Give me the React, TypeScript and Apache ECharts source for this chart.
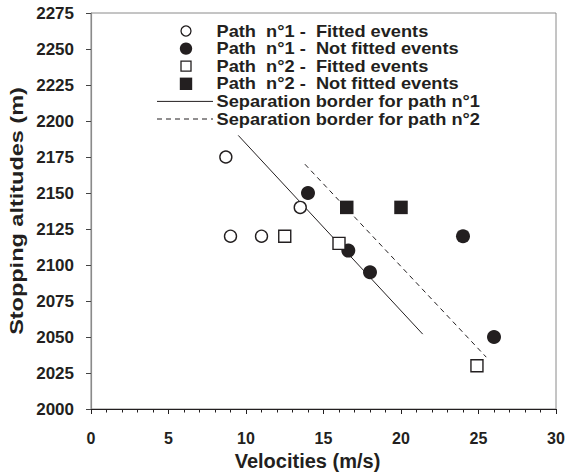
import React, { useEffect, useRef } from "react";
import * as echarts from "echarts";

// ---- data ----
const path1Fitted: number[][] = [[8.7, 2175], [9, 2120], [11, 2120], [13.5, 2140]];
const path1NotFitted: number[][] = [[14, 2150], [16.6, 2110], [18, 2095], [24, 2120], [26, 2050]];
const path2Fitted: number[][] = [[12.5, 2120], [16, 2115], [24.9, 2030]];
const path2NotFitted: number[][] = [[16.5, 2140], [20, 2140]];
const border1: number[][] = [[9.5, 2190], [21.4, 2052]];
const border2: number[][] = [[13.8, 2170], [25.5, 2036]];

const legendLabels = [
  "Path  n°1 -  Fitted events",
  "Path  n°1 -  Not fitted events",
  "Path  n°2 -  Fitted events",
  "Path  n°2 -  Not fitted events",
  "Separation border for path n°1",
  "Separation border for path n°2",
];

const xTitle = "Velocities (m/s)";
const yTitle = "Stopping altitudes (m)";

const FONT = "'Liberation Sans', Arial, Helvetica, sans-serif";
const INK = "#231f20";
const FRAME = "#8a8a8a";

export default function App() {
  const ref = useRef<HTMLDivElement>(null);

  useEffect(() => {
    if (!ref.current) return;
    const chart = echarts.init(ref.current, undefined, { renderer: "svg" });

    const rowY = (i: number) => 31 + 17.6 * i;
    const markX = 186;
    const textX = 216.5;
    const g: any[] = [];
    g.push({
      type: "circle", shape: { cx: markX, cy: rowY(0), r: 5 },
      style: { fill: "#fff", stroke: INK, lineWidth: 1.3 },
    });
    g.push({
      type: "circle", shape: { cx: markX, cy: rowY(1), r: 6.2 },
      style: { fill: INK, stroke: INK, lineWidth: 0 },
    });
    g.push({
      type: "rect", shape: { x: markX - 5, y: rowY(2) - 5, width: 10, height: 10 },
      style: { fill: "#fff", stroke: INK, lineWidth: 1.3 },
    });
    g.push({
      type: "rect", shape: { x: markX - 6.2, y: rowY(3) - 6.2, width: 12.4, height: 12.4 },
      style: { fill: INK, stroke: INK, lineWidth: 0 },
    });
    g.push({
      type: "line", shape: { x1: 157, y1: rowY(4), x2: 213, y2: rowY(4) },
      style: { stroke: INK, lineWidth: 1 },
    });
    g.push({
      type: "line", shape: { x1: 157, y1: rowY(5), x2: 213, y2: rowY(5) },
      style: { stroke: INK, lineWidth: 1, lineDash: [5, 4] },
    });
    legendLabels.forEach((t, i) => {
      g.push({
        type: "text",
        x: textX,
        y: rowY(i),
        scaleX: 1.14,
        style: {
          text: t,
          fill: INK,
          font: `bold 16px ${FONT}`,
          textAlign: "left",
          textVerticalAlign: "middle",
        },
      });
    });
    // y-axis title (rotated, slightly widened like the reference lettering)
    g.push({
      type: "text",
      x: 16,
      y: 211,
      rotation: Math.PI / 2,
      scaleX: 1.27,
      style: {
        text: yTitle,
        fill: INK,
        font: `bold 18.5px ${FONT}`,
        textAlign: "center",
        textVerticalAlign: "middle",
      },
    });

    const scatterStyle = (open: boolean) => ({
      color: open ? "#fff" : INK,
      borderColor: INK,
      borderWidth: open ? 1.4 : 0,
      opacity: 1,
    });

    chart.setOption({
      animation: false,
      backgroundColor: "#fff",
      textStyle: { fontFamily: FONT },
      grid: {
        left: 91, right: 9, top: 13, bottom: 63,
        outerBoundsMode: "none",
        containLabel: false,
        show: true, borderColor: FRAME, borderWidth: 1, backgroundColor: "transparent",
      },
      xAxis: {
        type: "value",
        min: 0, max: 30, interval: 5,
        name: xTitle,
        nameLocation: "middle",
        nameGap: 37,
        nameTextStyle: { fontSize: 20, fontWeight: "bold", color: INK, fontFamily: FONT, padding: [0, 32, 0, 0] },
        axisLine: { show: true, onZero: false, lineStyle: { color: INK, width: 1 } },
        axisTick: { show: true, inside: false, length: 5, lineStyle: { color: INK, width: 1 } },
        minorTick: { show: true, splitNumber: 5, length: 3.5, lineStyle: { color: INK, width: 1 } },
        axisLabel: {
          fontSize: 16, fontWeight: "bold", color: INK, margin: 21, fontFamily: FONT,
          formatter: (v: number) => String(v),
        },
        splitLine: { show: false },
        minorSplitLine: { show: false },
      },
      yAxis: {
        type: "value",
        min: 2000, max: 2275, interval: 25,
        axisLine: { show: true, onZero: false, lineStyle: { color: FRAME, width: 1.2 } },
        axisTick: { show: true, inside: false, length: 5, lineStyle: { color: "#444", width: 1 } },
        axisLabel: {
          fontSize: 17, fontWeight: "bold", color: INK, margin: 17, fontFamily: FONT,
          formatter: (v: number) => String(v),
        },
        splitLine: { show: false },
      },
      graphic: g,
      series: [
        {
          name: legendLabels[4], type: "line", data: border1, symbol: "none",
          lineStyle: { color: INK, width: 1, type: "solid" }, z: 1,
        },
        {
          name: legendLabels[5], type: "line", data: border2, symbol: "none",
          lineStyle: { color: INK, width: 1, type: [5, 4] }, z: 1,
        },
        {
          name: legendLabels[0], type: "scatter", data: path1Fitted,
          symbol: "circle", symbolSize: 12, itemStyle: scatterStyle(true), z: 3,
        },
        {
          name: legendLabels[1], type: "scatter", data: path1NotFitted,
          symbol: "circle", symbolSize: 14, itemStyle: scatterStyle(false), z: 3,
        },
        {
          name: legendLabels[2], type: "scatter", data: path2Fitted,
          symbol: "rect", symbolSize: 12, itemStyle: scatterStyle(true), z: 3,
        },
        {
          name: legendLabels[3], type: "scatter", data: path2NotFitted,
          symbol: "rect", symbolSize: 13.5, itemStyle: scatterStyle(false), z: 3,
        },
      ],
    });

    return () => chart.dispose();
  }, []);

  return (
    <div
      ref={ref}
      style={{ position: "fixed", left: 0, top: 0, width: 565, height: 472, background: "#fff" }}
    />
  );
}
